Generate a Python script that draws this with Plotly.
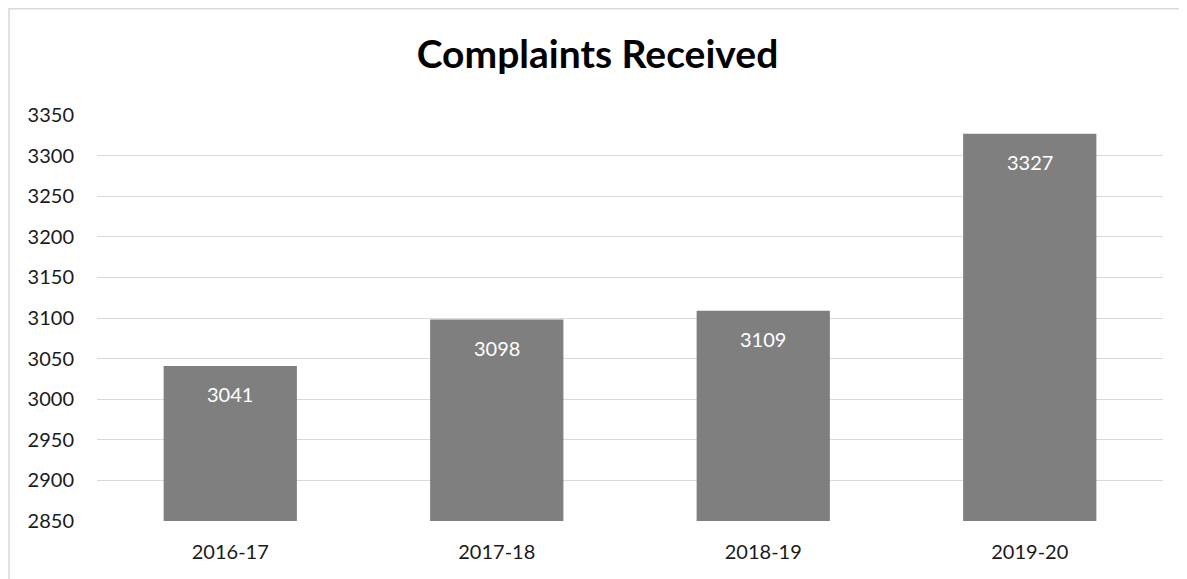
import plotly.graph_objects as go

categories = ["2016-17", "2017-18", "2018-19", "2019-20"]
values = [3041, 3098, 3109, 3327]
title_text = "Complaints Received"

FONT = "Lato, Liberation Sans, sans-serif"

W, H = 1179, 571
ML, MR, MT, MB = 89, 24, 107, 58

fig = go.Figure()
fig.add_trace(go.Bar(
    x=categories, y=values,
    marker=dict(color="#7f7f7f", line=dict(width=0)),
    width=0.5,
    hoverinfo="skip",
))

for c, v in zip(categories, values):
    fig.add_annotation(x=c, y=v, text=str(v), showarrow=False,
                       yanchor="top", yshift=-14,
                       font=dict(family=FONT, size=20, color="#ffffff"))

fig.add_shape(type="rect", xref="paper", yref="paper",
              x0=-0.0826, x1=1.2, y0=-0.4, y1=1.262,
              line=dict(color="#d9d9d9", width=1.5), fillcolor="rgba(0,0,0,0)",
              layer="below")

fig.update_layout(
    width=W, height=H,
    margin=dict(l=ML, r=MR, t=MT, b=MB),
    paper_bgcolor="white", plot_bgcolor="white",
    title=dict(text="<b>" + title_text + "</b>", x=0.5, xanchor="center",
               y=1 - 46 / H, yanchor="middle",
               font=dict(family=FONT, size=39, color="#000000")),
    font=dict(family=FONT, size=20, color="#1a1a1a"),
    showlegend=False,
    xaxis=dict(showgrid=False, showline=False, zeroline=False,
               ticks="", ticklabelstandoff=17,
               tickfont=dict(size=20, color="#1a1a1a")),
    yaxis=dict(range=[2850, 3350], dtick=50, tick0=2850,
               showgrid=True, gridcolor="#d9d9d9", gridwidth=1.3,
               zeroline=False, showline=False, ticks="",
               ticklabelstandoff=22,
               tickfont=dict(size=20, color="#1a1a1a")),
)

fig.write_html("out.html")
